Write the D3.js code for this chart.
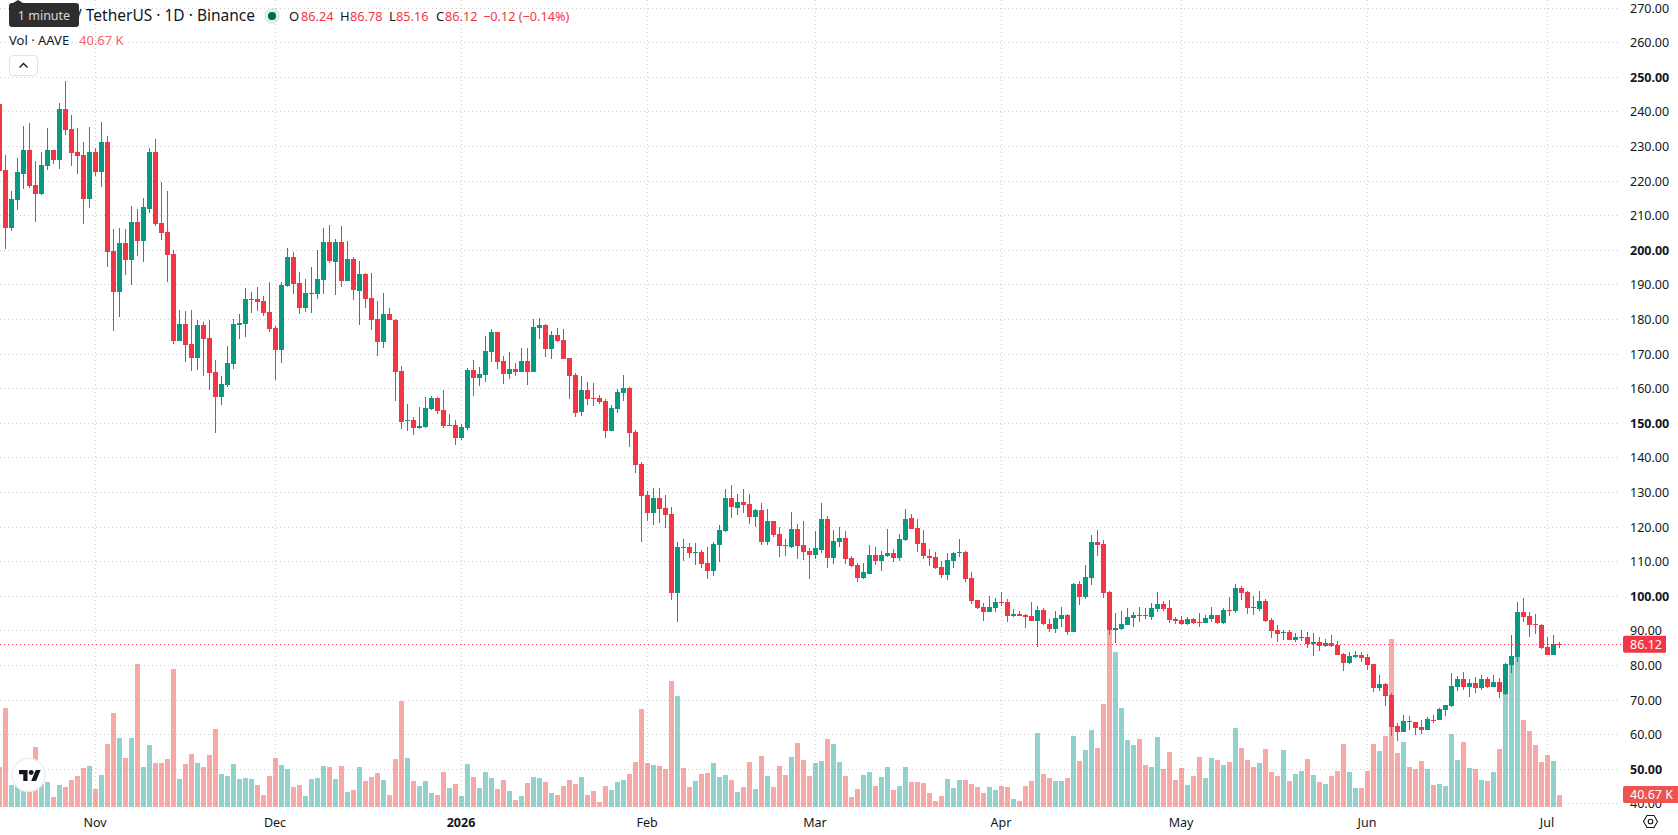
<!DOCTYPE html>
<html>
<head>
<meta charset="utf-8">
<title>AAVE / USDT daily</title>
<script src="https://d3js.org/d3.v7.min.js"></script>
<style>
  html, body { margin: 0; padding: 0; background: #fff; overflow: hidden; }
  svg { display: block; font-family: "Noto Sans", sans-serif; }
  svg text { fill: #131722; }
</style>
</head>
<body>
<div id="chart"></div>
<script>
// Daily AAVE/USDT candles, first session 16 Oct 2025, last session 3 Jul 2026.
const opens = [242.3,
  223.2,206.4,214.5,222.0,229.0,218.9,216.3,224.4,229.0,226.1,
  240.8,235.1,228.4,227.5,214.8,228.4,222.6,231.3,199.8,187.9,
  202.1,197.2,208.2,202.7,211.9,228.4,207.9,205.3,198.9,173.8,
  178.7,172.9,168.9,178.4,174.6,164.8,157.6,161.1,167.1,178.4,
  178.7,185.6,185.9,185.3,182.2,177.5,171.2,189.7,198.1,190.5,
  183.3,187.4,187.4,191.4,202.4,196.6,202.4,191.1,197.5,188.2,
  193.1,186.2,180.1,173.5,181.6,179.9,165.1,150.6,150.9,148.6,
  148.9,154.1,157.3,153.8,149.2,149.5,145.8,148.6,165.4,163.1,
  163.9,170.6,176.4,168.0,164.2,165.7,164.8,168.0,164.8,177.5,
  178.4,171.5,175.5,174.1,168.9,164.0,153.3,159.6,157.3,157.3,
  156.4,147.8,154.1,158.8,160.2,147.5,138.2,129.3,124.1,128.4,
  125.5,123.8,100.9,114.3,114.3,112.5,112.8,109.6,107.3,114.8,
  118.9,128.4,125.5,127.3,126.7,122.9,124.9,115.7,121.8,118.0,
  114.8,114.2,119.5,114.8,113.1,111.9,113.4,122.3,111.1,115.7,
  116.8,111.1,109.0,105.3,106.4,111.9,110.2,111.6,112.5,111.1,
  116.3,122.6,119.7,115.4,111.6,111.4,108.5,106.2,110.2,112.5,
  112.8,105.3,98.9,96.9,95.5,96.6,98.3,98.3,94.3,94.9,
  94.6,94.3,92.9,96.0,92.0,90.5,93.4,94.6,89.7,103.5,
  99.8,105.3,115.7,115.1,101.2,90.3,90.5,91.7,93.7,94.6,
  94.6,94.0,96.3,97.8,96.6,93.4,93.1,92.0,93.4,92.6,
  92.3,93.4,94.6,92.3,96.0,95.7,102.4,101.2,96.9,96.3,
  98.6,93.1,90.3,89.4,89.7,87.4,87.9,88.2,86.2,86.8,
  85.6,86.5,85.9,83.3,80.7,82.4,83.0,82.4,80.4,73.5,
  74.7,71.5,62.5,60.8,64.0,63.7,62.2,61.4,64.2,64.2,
  67.1,68.3,73.8,76.1,73.8,74.9,73.5,76.1,73.8,75.2,
  71.8,80.1,82.5,95.5,94.3,92.0,91.7,85.3,83.0,86.24];

const highs = [242.3,
  227.5,217.1,226.7,235.9,236.8,225.8,228.4,235.3,229.0,242.6,
  248.9,239.1,235.3,231.3,235.6,229.6,237.1,233.0,206.1,206.4,
  206.1,212.8,211.9,215.1,229.6,232.2,219.7,217.1,200.1,182.7,
  182.5,182.7,179.9,179.3,179.9,168.3,163.7,172.3,180.1,181.6,
  189.1,187.9,189.4,186.8,190.8,178.1,190.8,200.7,199.5,193.7,
  191.7,195.2,200.1,206.4,207.3,203.3,207.0,202.7,198.1,196.9,
  193.4,193.4,185.3,187.6,183.3,180.1,166.5,155.6,151.8,154.7,
  157.6,157.9,157.6,159.6,152.7,151.0,149.8,166.0,168.3,166.3,
  175.2,177.3,176.4,169.5,170.6,167.4,171.8,171.8,180.2,180.4,
  178.7,176.7,177.5,177.3,168.9,164.5,163.7,161.9,161.7,158.2,
  157.0,155.3,159.9,164.0,160.5,148.1,138.8,130.4,131.3,131.3,
  129.3,125.8,115.7,116.6,115.4,115.4,113.4,114.3,115.7,120.6,
  131.0,132.2,129.6,131.0,129.6,125.2,127.0,125.2,121.8,120.0,
  116.6,124.4,120.9,121.8,113.9,118.9,127.0,123.2,119.2,120.0,
  118.9,111.6,109.6,109.6,114.8,114.2,113.1,119.4,113.7,118.0,
  125.2,123.8,122.3,119.2,113.7,112.8,110.2,112.5,112.8,116.6,
  113.1,107.0,98.9,98.1,100.1,99.5,101.2,99.2,96.3,95.8,
  94.9,98.3,97.2,96.6,93.4,95.8,96.9,94.9,103.8,104.4,
  109.0,117.7,119.2,116.3,101.5,95.2,95.8,96.6,95.5,96.9,
  96.6,98.1,101.2,98.6,98.9,94.0,94.3,94.0,93.7,95.2,
  94.6,96.9,94.6,96.6,99.8,103.6,103.0,101.5,100.1,101.5,
  99.2,93.7,91.7,90.3,90.3,89.4,90.3,89.7,89.4,88.2,
  87.7,88.8,87.1,83.6,83.9,84.2,83.9,83.3,80.4,77.3,
  74.9,72.0,63.4,65.7,65.4,63.7,64.2,65.1,65.7,67.7,
  68.6,77.8,77.0,78.1,76.1,76.7,77.3,76.7,77.3,76.4,
  80.7,88.8,98.4,99.5,95.5,94.9,92.0,88.2,88.8,86.78];

const lows = [223.0,
  200.4,205.6,211.6,217.7,218.0,208.2,216.0,223.2,224.9,223.5,
  233.3,224.4,222.0,207.6,212.2,221.5,218.3,195.2,176.7,180.7,
  192.9,190.0,198.3,196.6,210.8,207.0,203.0,190.8,172.9,173.8,
  167.7,165.1,165.4,163.7,159.6,147.2,155.3,160.5,165.7,174.4,
  174.9,181.9,182.5,181.0,176.4,162.5,167.4,189.4,187.4,181.6,
  182.2,181.9,185.9,187.4,196.3,187.1,189.4,191.1,185.6,178.4,
  183.3,177.0,169.4,171.8,179.9,156.4,148.3,147.8,146.6,148.4,
  148.6,153.8,152.7,148.6,149.2,143.7,145.2,148.1,157.9,160.8,
  161.9,167.7,165.7,161.4,162.8,163.7,164.8,161.1,164.8,174.4,
  169.2,168.6,173.5,168.6,157.0,151.8,152.1,155.3,155.0,155.6,
  145.8,147.8,153.0,156.4,143.1,135.6,115.7,121.8,120.6,121.2,
  119.7,98.9,92.6,110.2,111.1,109.0,108.2,105.0,105.9,109.9,
  118.6,122.6,123.5,124.1,120.9,120.0,114.8,114.8,117.1,111.4,
  111.6,113.9,110.8,110.5,105.0,110.8,112.5,108.2,109.3,114.2,
  109.3,108.5,104.1,105.0,106.4,109.0,107.3,111.4,109.9,110.2,
  116.0,119.4,112.8,110.8,108.8,107.9,105.3,104.7,108.2,111.4,
  104.1,97.8,96.3,92.9,95.5,95.5,97.2,92.6,94.0,94.3,
  90.8,92.9,85.3,91.7,89.7,89.4,91.1,88.8,89.7,97.5,
  99.2,103.3,111.6,99.5,88.8,86.5,90.3,91.7,91.1,92.6,
  93.4,93.1,95.5,95.8,92.3,92.0,91.7,91.7,92.0,91.1,
  92.3,92.6,92.0,92.0,94.3,95.2,98.9,94.9,94.6,95.7,
  92.6,87.9,86.8,87.4,87.4,86.8,87.1,85.1,82.7,84.2,
  85.3,85.3,83.0,78.4,80.4,82.2,81.0,78.7,72.3,72.6,
  68.3,59.6,58.2,60.8,61.4,59.9,60.2,61.4,63.4,64.2,
  65.4,68.0,72.6,72.9,70.9,72.0,72.9,73.5,73.8,70.6,
  71.5,77.8,81.0,92.6,88.2,89.1,84.8,83.0,83.0,85.16];

const closes = [223.0,
  206.4,214.8,222.6,229.0,218.6,216.3,224.7,229.0,226.1,240.8,
  234.8,228.1,227.3,214.8,228.4,222.6,231.3,199.5,187.9,202.1,
  197.2,208.2,202.7,212.5,228.4,207.6,205.0,198.6,173.8,178.7,
  172.6,168.9,178.4,174.4,164.5,157.6,161.4,167.4,178.7,179.0,
  185.9,185.9,185.0,181.9,177.3,171.2,190.0,198.1,190.3,183.3,
  187.6,187.6,191.7,202.4,196.9,202.4,191.1,197.5,188.5,193.1,
  185.9,179.9,173.5,181.6,179.9,164.8,150.4,150.9,148.6,149.2,
  154.4,157.3,153.6,149.2,149.5,145.8,148.9,165.4,163.1,164.2,
  170.9,176.4,167.7,164.2,165.7,164.8,168.0,164.8,177.8,178.4,
  171.5,175.5,173.8,168.6,163.7,153.0,159.6,157.0,157.0,156.2,
  147.8,154.4,159.0,160.2,147.2,137.9,129.0,124.1,128.4,125.2,
  123.5,100.9,114.3,114.0,112.5,112.8,109.3,107.3,115.1,119.2,
  128.4,125.8,127.3,126.4,122.9,124.9,115.7,121.8,117.7,114.5,
  114.5,119.5,114.5,112.8,111.9,113.9,122.3,111.1,116.0,116.8,
  110.8,108.8,105.3,107.0,111.9,110.2,111.9,112.5,111.1,116.6,
  122.3,119.4,115.1,111.6,111.1,108.2,106.2,110.5,112.5,112.8,
  105.0,98.6,96.6,95.5,96.9,98.3,98.1,94.3,94.9,94.3,
  94.0,92.9,96.0,92.0,90.5,93.7,94.6,89.7,103.5,99.8,
  105.6,115.7,114.8,100.9,90.3,90.8,92.0,94.0,94.6,94.3,
  94.3,96.6,97.8,96.3,93.1,92.9,92.0,93.4,92.3,92.3,
  93.7,94.6,92.3,96.0,95.7,102.4,101.0,96.6,96.6,98.6,
  92.9,90.0,89.1,89.7,87.4,88.2,88.2,86.2,86.8,85.6,
  86.5,85.6,83.0,80.7,82.7,83.0,82.2,80.1,73.5,74.7,
  71.2,62.2,60.8,64.0,63.7,61.9,61.4,64.5,64.0,67.4,
  68.6,74.1,76.1,73.8,74.9,73.5,76.1,73.8,75.2,72.3,
  80.4,82.7,95.5,94.0,91.7,91.7,85.1,83.0,86.3,86.12];

// Traded volume per session, in thousands of AAVE.
const volumes = [137.9,
  343.1,75.3,85,72,90,207.5,78,85.8,33.6,75.3,
  68.4,92.7,106.6,134.4,141.4,61.4,110.1,217.9,325.7,238.8,
  169.2,238.8,496.1,137.9,214.4,151.8,151.8,165.7,478.7,96.2,
  148.4,183.1,151.8,137.9,179.6,270.0,113.6,106.6,148.4,96.2,
  99.7,96.2,75.3,40.6,106.6,169.2,144.9,131.0,68.4,75.3,
  37.1,96.2,99.7,141.4,137.9,96.2,141.4,51.0,58.0,137.9,
  89.2,103.2,117.1,92.7,40.6,165.7,367.4,169.2,89.2,71.9,
  89.2,47.5,40.6,120.5,64.9,78.8,37.1,148.4,103.2,64.9,
  120.5,99.7,61.4,92.7,54.5,23.2,37.1,82.3,103.2,99.7,
  85.8,47.5,40.6,71.9,92.7,78.8,103.2,40.6,54.5,16.2,
  71.9,58.0,85.8,92.7,113.6,155.3,339.6,151.8,144.9,141.4,
  131.0,436.9,384.8,134.4,68.4,89.2,113.6,117.1,151.8,103.2,
  110.1,92.7,51.0,68.4,155.3,61.4,176.2,106.6,68.4,141.4,
  110.1,172.7,221.4,162.3,106.6,151.8,158.8,235.3,217.9,155.3,
  106.6,33.6,61.4,110.1,120.5,71.9,103.2,137.9,58.0,71.9,
  137.9,85.8,85.8,82.3,47.5,19.7,37.1,96.2,64.9,92.7,
  92.7,78.8,68.4,47.5,68.4,58.0,71.9,68.4,26.7,19.7,
  71.9,89.2,256.1,113.6,99.7,89.2,89.2,99.7,245.7,158.8,
  197.0,266.6,204.0,357.0,631.6,537.8,343.1,231.8,214.4,235.3,
  144.9,137.9,242.2,131.0,190.1,92.7,134.4,75.3,106.6,172.7,
  99.7,169.2,162.3,144.9,155.3,273.5,204.0,162.3,137.9,151.8,
  200.5,120.5,106.6,197.0,89.2,113.6,124.0,165.7,110.1,85.8,
  78.8,106.6,124.0,217.9,120.5,64.9,64.9,124.0,217.9,193.6,
  245.7,583,186.6,224.8,137.9,131.0,158.8,131.0,75.3,78.8,
  71.9,252.7,162.3,224.8,134.4,131.0,92.7,89.2,120.5,200.5,
  475,510,581,301.3,263.1,214.4,155.3,179.6,158.8,40.67];

const priceTicks = [270,260,250,240,230,220,210,200,190,180,170,160,150,140,130,120,110,100,90,80,70,60,50,40];
const boldPriceTicks = [250,200,150,100,50];
const monthStarts = [[2025,10],[2025,11],[2026,0],[2026,1],[2026,2],[2026,3],[2026,4],[2026,5],[2026,6]];
const monthLabels = ["Nov","Dec","2026","Feb","Mar","Apr","May","Jun","Jul"];
const lastPrice = 86.12;
const lastVolume = 40.67;

const UP = "#089981", DOWN = "#F23645";
const VOL_UP = "rgba(38,166,154,0.5)", VOL_DOWN = "rgba(239,83,80,0.5)";
const GRID = "#cdcfd3";
const W = 1678, H = 835, paneRight = 1620, paneBottom = 807, axisLeft = 1630;

const firstDay = Date.UTC(2025, 9, 16);
const dates = opens.map((_, i) => d3.utcDay.offset(new Date(firstDay), i));
const candles = dates.map((date, i) => ({
  date, open: opens[i], high: highs[i], low: lows[i], close: closes[i], volume: volumes[i]
}));

const x = d3.scaleUtc()
  .domain([dates[0], dates[dates.length - 1]])
  .range([-0.5, 1559.5]);
const y = d3.scaleLinear().domain([250, 50]).range([77.3, 769.3]);
const yVol = d3.scaleLinear().domain([0, 100]).range([806.7, 778]);

const svg = d3.select("#chart").append("svg")
  .attr("width", W).attr("height", H).attr("viewBox", `0 0 ${W} ${H}`);
svg.append("rect").attr("width", W).attr("height", H).attr("fill", "#fff");

// Dotted grid
const grid = svg.append("g").attr("stroke", GRID).attr("stroke-dasharray", "1 3").attr("fill", "none");
grid.selectAll("line.h").data(priceTicks).join("line").attr("class", "h")
  .attr("x1", 0).attr("x2", paneRight)
  .attr("y1", d => Math.floor(y(d)) + 0.5).attr("y2", d => Math.floor(y(d)) + 0.5);
const monthDates = monthStarts.map(([yr, m]) => new Date(Date.UTC(yr, m, 1)));
grid.selectAll("line.v").data(monthDates).join("line").attr("class", "v")
  .attr("y1", 0).attr("y2", paneBottom)
  .attr("x1", d => x(d)).attr("x2", d => x(d));

// Volume histogram sits under the candles
svg.append("g").attr("shape-rendering", "crispEdges").selectAll("rect").data(candles).join("rect")
  .attr("x", d => x(d.date) - 2.5)
  .attr("width", 5)
  .attr("y", d => Math.round(yVol(d.volume)))
  .attr("height", d => Math.round(yVol(0)) - Math.round(yVol(d.volume)))
  .attr("fill", d => d.close < d.open ? VOL_DOWN : VOL_UP);

// Candles
const candle = svg.append("g").attr("shape-rendering", "crispEdges")
  .selectAll("g").data(candles).join("g")
  .attr("fill", d => d.close < d.open ? DOWN : UP);
candle.append("rect")
  .attr("x", d => x(d.date) - 0.5).attr("width", 1)
  .attr("y", d => Math.round(y(d.high)))
  .attr("height", d => Math.max(1, Math.round(y(d.low)) - Math.round(y(d.high))));
candle.append("rect")
  .attr("x", d => x(d.date) - 2.5).attr("width", 5)
  .attr("y", d => Math.round(y(Math.max(d.open, d.close))))
  .attr("height", d => Math.max(1, Math.round(y(Math.min(d.open, d.close))) - Math.round(y(Math.max(d.open, d.close)))));

// Last price line
svg.append("line")
  .attr("x1", 0).attr("x2", 1624)
  .attr("y1", Math.floor(y(lastPrice)) + 0.5).attr("y2", Math.floor(y(lastPrice)) + 0.5)
  .attr("stroke", DOWN).attr("stroke-dasharray", "1 3");

// Price axis
const yAxis = svg.append("g").attr("transform", `translate(${axisLeft},0)`)
  .call(d3.axisRight(y).tickValues(priceTicks).tickFormat(d3.format(".2f")).tickSize(0).tickPadding(0));
yAxis.select(".domain").remove();
yAxis.selectAll("text")
  .attr("font-family", "'Noto Sans', sans-serif").attr("font-size", 12.5)
  .attr("font-weight", d => boldPriceTicks.includes(d) ? 700 : 400);

// Time axis
const xAxis = svg.append("g").attr("transform", `translate(0,${paneBottom})`)
  .call(d3.axisBottom(x).tickValues(monthDates).tickFormat((d, i) => monthLabels[i]).tickSize(0).tickPadding(0));
xAxis.select(".domain").remove();
xAxis.selectAll("text")
  .attr("dy", 0).attr("y", 20).attr("dx", -1)
  .attr("font-family", "'Noto Sans', sans-serif").attr("font-size", 12.5)
  .attr("font-weight", (d, i) => monthLabels[i] === "2026" ? 700 : 400);

// Value tags on the price axis
function tag(value, label, x0, x1, yc, h, fill, r) {
  svg.append("path")
    .attr("d", `M${x1},${yc - h / 2}H${x0 + r}Q${x0},${yc - h / 2} ${x0},${yc - h / 2 + r}V${yc + h / 2 - r}Q${x0},${yc + h / 2} ${x0 + r},${yc + h / 2}H${x1}Z`)
    .attr("fill", fill);
  svg.append("text").attr("x", axisLeft).attr("y", yc + 4.5)
    .attr("font-size", 12.5).style("fill", "#fff").text(label);
}
tag(lastPrice, d3.format(".2f")(lastPrice), 1623, 1666, y(lastPrice), 17, "#F23645", 2);
tag(lastVolume, `${d3.format(".2f")(lastVolume)} K`, 1623, 1678, yVol(lastVolume) - 0.5, 17, "#EF5350", 2);

// Legend
function legendText(xp, yp, str, size, fill) {
  return svg.append("text").attr("x", xp).attr("y", yp).attr("font-size", size).style("fill", fill).text(str);
}
legendText(255, 21, "Aave / TetherUS · 1D · Binance", 15.5, "#131722").attr("text-anchor", "end");
svg.append("circle").attr("cx", 272).attr("cy", 16).attr("r", 8).attr("fill", "#089981").attr("opacity", 0.14);
svg.append("circle").attr("cx", 272).attr("cy", 16).attr("r", 4).attr("fill", "#056656");
[[289, "O"], [340, "H"], [389, "L"], [436, "C"]].forEach(([xp, s]) => legendText(xp, 21, s, 13, "#131722"));
[[301, "86.24"], [350, "86.78"], [396, "85.16"], [445, "86.12"], [483, "−0.12 (−0.14%)"]].forEach(([xp, s]) => legendText(xp, 21, s, 12.7, DOWN));
legendText(9, 45, "Vol · AAVE", 13, "#131722");
legendText(79, 45, "40.67 K", 13, "#F7636A");

// Collapse button
svg.append("rect").attr("x", 9.5).attr("y", 55.5).attr("width", 28).attr("height", 20).attr("rx", 3.5)
  .attr("fill", "#fff").attr("stroke", "#e0e3eb");
svg.append("path").attr("d", "M19.5,67.5 L23.5,63.5 L27.5,67.5").attr("fill", "none").attr("stroke", "#131722").attr("stroke-width", 1.4);

// Tooltip over the symbol name
svg.append("path").attr("d", "M13,3 L18,0 L23,3 H76 Q79,3 79,6 V24 Q79,27 76,27 H12 Q9,27 9,24 V6 Q9,3 12,3 Z").attr("fill", "#2e2e2e");
svg.append("text").attr("x", 44).attr("y", 20).attr("text-anchor", "middle").attr("font-size", 12.5).style("fill", "#dadada").text("1 minute");

// Branding badge
svg.append("circle").attr("cx", 28.5).attr("cy", 775).attr("r", 16.5).attr("fill", "#fff").attr("stroke", "#eceef2").attr("stroke-width", 1.5);
const logo = svg.append("g").attr("transform", "translate(19,767.6) scale(0.61)").attr("fill", "#131722");
logo.append("path").attr("d", "M14 22H7V11H0V4h14v18zM28 22h-8l7.5-18h8L28 22z");
logo.append("circle").attr("cx", 20).attr("cy", 8).attr("r", 4);

// Settings icon
const hex = d3.range(6).map(i => [1650.5 + 7 * Math.cos(i * Math.PI / 3), 821.5 + 7 * Math.sin(i * Math.PI / 3)]);
svg.append("path").attr("d", d3.line()(hex) + "Z").attr("fill", "none").attr("stroke", "#131722").attr("stroke-width", 1.1);
svg.append("circle").attr("cx", 1650.5).attr("cy", 821.5).attr("r", 2.3).attr("fill", "none").attr("stroke", "#131722").attr("stroke-width", 1.1);
</script>
</body>
</html>
